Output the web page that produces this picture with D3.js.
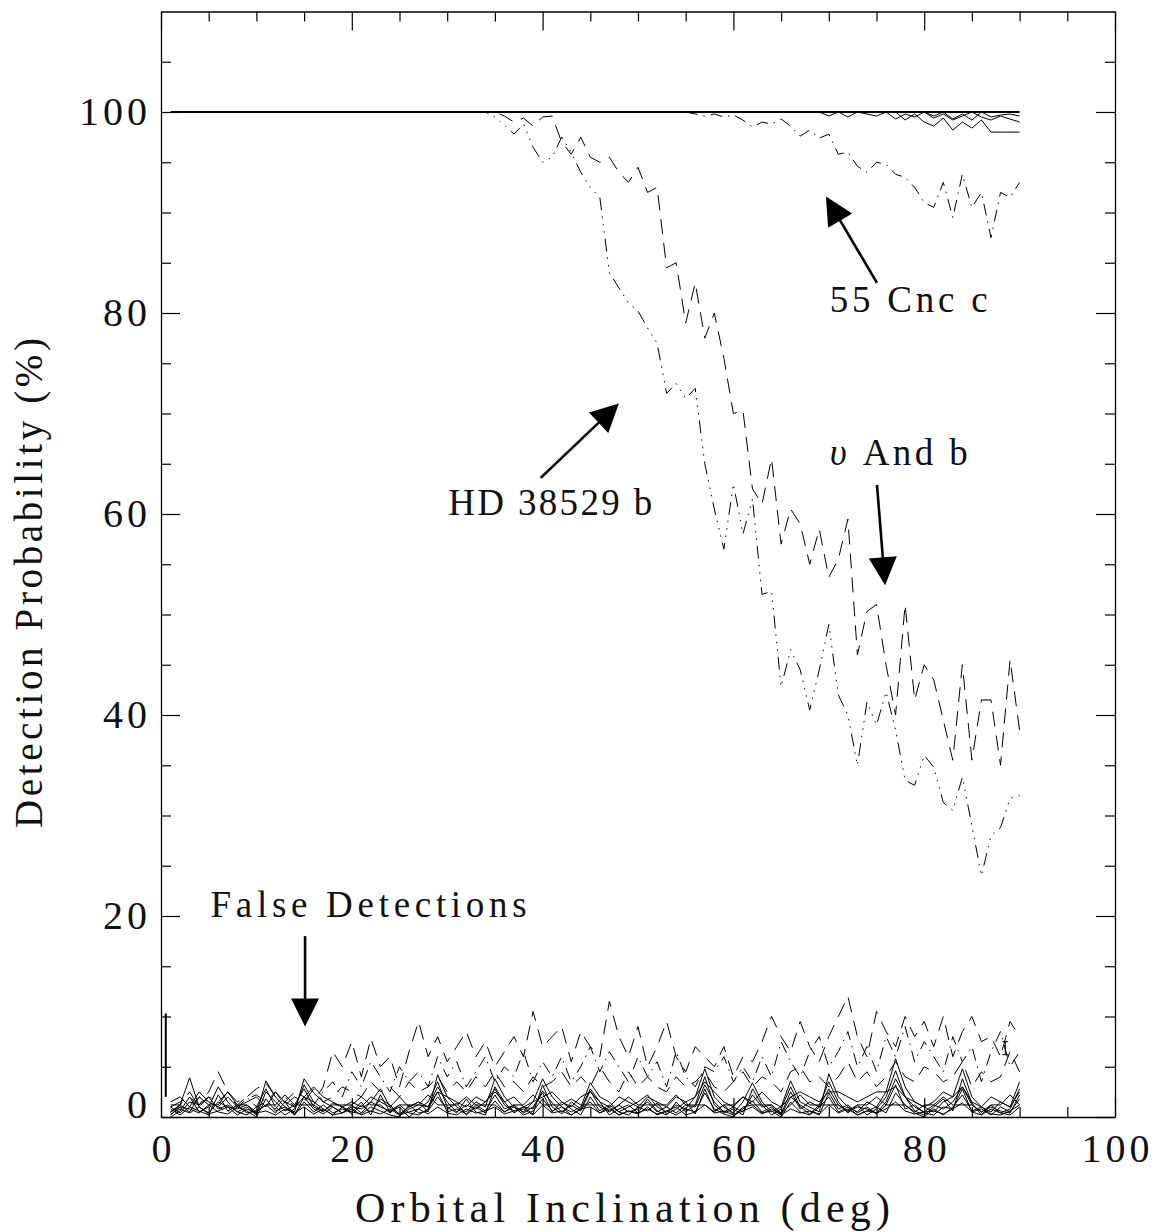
<!DOCTYPE html>
<html><head><meta charset="utf-8">
<script src="https://cdn.jsdelivr.net/npm/d3@7"></script>
<style>body{margin:0;background:#fff}svg{display:block}</style>
</head><body>
<svg id="c" width="1154" height="1232"></svg>
<script>
// ---------------- DATA ----------------
const xTicks = [0, 20, 40, 60, 80, 100];
const xTickLabels = ["0", "20", "40", "60", "80", "100"];
const xMinorTicks = [5, 10, 15, 25, 30, 35, 45, 50, 55, 65, 70, 75, 85, 90, 95];
const yTicks = [0, 20, 40, 60, 80, 100];
const yTickLabels = ["0", "20", "40", "60", "80", "100"];
const yMinorTicks = [5, 10, 15, 25, 30, 35, 45, 50, 55, 65, 70, 75, 85, 90, 95, 105];

// certain detections: flat 100% line (deg 1 .. 90)
const sureX = [1, 90];
const sureY = [100, 100];

// upsilon And b (dashed), starting at 33 deg
const upsStart = 33;
const upsAnd = [100,100,100,99.6,99.0,99.4,98.6,99.5,99.6,97.0,
  95.8,97.5,95.5,95.0,95.5,94.0,93.0,94.5,92.0,92.5,
  84.5,85.0,79.0,83.0,77.5,80.0,75.5,70.0,70.3,62.5,
  61.0,65.5,57.0,60.5,59.0,55.0,58.5,53.7,55.5,59.5,
  46.0,50.3,51.0,45.0,40.0,51.0,41.5,45.0,43.5,39.5,
  35.5,45.0,35.5,41.5,41.5,35.0,45.5,38.5];

// HD 38529 b (dash-dot-dot-dot), starting at 33 deg
const hdStart = 33;
const hd38529 = [100,100,99.5,98.7,97.8,98.8,96.5,95.0,95.5,97.5,
  96.0,94.0,92.5,91.5,84.0,82.5,81.0,80.2,78.5,77.0,
  72.0,73.0,71.5,72.5,65.0,60.5,56.5,63.0,58.0,61.5,
  52.0,52.3,42.8,46.5,44.5,40.5,44.5,49.0,42.0,40.0,
  35.0,41.3,39.0,42.3,38.5,33.5,33.0,36.0,34.8,31.3,
  30.5,33.8,29.0,24.0,28.0,28.8,31.7,32.0];

// 55 Cnc c (dash-dot), starting at 55 deg
const cncStart = 55;
const cnc55c = [100,99.8,99.6,99.8,99.5,99.7,99.2,98.5,99.0,98.8,
  99.3,98.6,97.6,98.2,97.4,97.8,95.8,96.0,94.6,94.0,
  95.0,94.8,93.8,93.5,92.5,91.0,90.5,93.0,89.5,93.8,
  90.5,92.0,87.5,92.0,91.5,93.0];

// solid near-certain curves close to 100 %
const nearA_start = 55;
const nearA = [100,100,100,100,100,100,100,100,100,100,
  100,100,100,100,100,99.6,100,99.5,100,99.8,
  99.6,100,99.3,99.8,99.5,100,99.4,99.8,99.2,99.6,
  100,99.5,99.2,99.6,99.3,99.0];
const nearB_start = 76;
const nearB = [100,100,99.2,99.8,99.0,98.6,99.4,98.2,99.0,98.4,99.2,98.0,98.0,98.0,98.0];
const nearC_start = 80;
const nearC = [100,99.6,100,99.3,99.8,99.2,100,99.5,99.7,99.8,99.6];

// false detections, solid (deg 1 .. 90)
const falseStart = 1;
const fs1 = [0.5,1.2,3.9,1.0,0.4,1.5,1.0,0.8,1.2,0.3, 3.6,2.0,1.0,0.5,3.8,2.4,1.5,1.0,0.4,1.0,
  0.8,1.5,2.8,1.0,0.3,1.0,1.5,0.5,4.2,2.0, 1.0,0.5,1.5,1.0,3.8,2.0,1.0,0.5,1.5,3.8,
  2.0,1.0,0.5,1.0,3.4,2.0,1.5,0.5,1.0,1.5, 2.2,1.0,0.5,1.2,0.8,2.0,4.8,2.0,1.0,0.4,
  1.5,3.4,1.5,0.5,1.0,3.6,1.5,1.0,0.5,4.3, 2.0,1.0,0.5,1.5,1.0,2.5,5.8,3.0,1.5,1.0,
  0.5,1.5,2.0,4.8,2.0,1.0,0.5,1.5,1.0,3.5];
const fs2 = [1.0,0.4,1.5,1.2,2.0,0.8,1.2,0.5,1.0,0.2, 2.5,1.5,0.6,1.2,2.8,1.0,0.5,1.4,1.0,0.3,
  1.2,0.5,1.8,1.2,0.2,0.8,1.2,1.0,3.0,1.5, 0.5,1.2,0.8,1.5,2.8,1.2,0.6,1.0,0.8,2.6,
  1.4,0.5,1.2,0.6,2.6,1.0,0.5,1.2,0.5,0.8, 1.5,0.5,1.0,0.4,1.2,1.0,3.2,1.5,0.5,1.0,
  0.5,2.2,1.0,1.2,0.3,2.5,0.8,1.5,1.0,2.8, 1.2,0.5,1.0,0.8,0.4,1.5,3.8,2.0,1.0,0.5,
  1.2,0.8,1.5,3.0,1.2,0.5,1.0,0.6,0.4,2.2];
const fs3 = [0.2,1.0,0.8,0.4,1.2,0.5,0.3,1.0,0.6,0.0, 1.8,0.6,1.0,0.2,1.5,0.5,1.2,0.4,0.8,0.5,
  0.3,1.0,0.6,0.2,0.0,1.2,0.4,0.6,2.0,0.8, 1.4,0.2,1.0,0.4,1.6,0.5,1.0,0.2,0.6,1.8,
  0.6,1.0,0.2,0.8,1.5,0.4,1.0,0.2,0.6,0.3, 1.0,0.2,0.6,1.0,0.2,0.5,2.4,0.8,0.3,0.0,
  1.0,1.2,0.4,0.6,0.0,1.5,0.5,0.2,1.0,2.0, 0.5,1.0,0.2,0.6,1.0,0.4,2.4,1.2,0.4,0.0,
  0.8,0.2,1.0,2.2,0.6,1.0,0.3,0.2,0.6,1.2];
const fs4 = [1.2,1.2,0.5,2.0,1.2,1.2,2.5,1.2,1.2,0.5, 1.2,1.2,2.2,1.2,1.2,1.2,0.6,1.2,1.2,1.2,
  2.0,1.2,1.2,0.4,1.2,1.2,1.2,2.2,1.2,1.2, 1.2,2.0,1.2,1.2,1.2,0.5,1.2,1.2,2.2,1.2,
  1.2,1.2,1.8,1.2,1.2,1.2,0.6,1.2,2.0,1.2, 1.2,1.2,1.2,2.2,1.2,1.2,1.2,0.5,1.2,1.2,
  2.0,1.2,1.2,1.2,0.4,1.2,2.2,1.2,1.2,1.2, 1.2,0.6,1.2,1.2,2.0,1.2,1.2,1.2,0.5,1.2,
  1.2,2.0,1.2,1.2,1.2,0.5,1.2,1.2,2.2,1.2];
const fs5 = [0.0,0.6,2.0,0.5,1.0,3.0,1.5,0.5,0.2,1.0, 2.8,1.0,0.2,0.8,3.2,1.5,0.8,0.2,1.0,0.5,
  1.5,0.2,2.2,0.5,1.0,0.0,0.8,1.5,3.5,1.0, 0.4,1.8,0.5,0.2,3.0,1.5,0.4,1.0,0.3,3.2,
  1.0,0.3,1.5,0.8,2.8,1.5,0.2,0.8,1.2,0.4, 1.8,0.6,0.2,1.5,0.5,1.2,4.0,1.2,0.4,0.8,
  0.2,2.8,1.2,0.2,0.8,3.0,1.0,0.3,1.2,3.5, 1.5,0.4,1.2,0.2,0.8,2.0,4.6,2.0,0.6,0.2,
  1.0,1.8,0.6,3.8,1.4,0.2,1.2,0.4,0.8,2.8];
const fs6 = [0.8,0.2,1.0,0.6,0.2,2.2,0.6,1.2,0.4,0.6, 1.2,0.4,1.5,0.2,2.0,0.8,0.3,1.0,0.4,1.2,
  0.4,1.5,1.0,0.6,1.2,0.4,0.2,0.8,2.5,0.5, 0.8,0.3,1.2,0.6,2.2,0.8,1.2,0.4,1.0,2.4,
  0.5,1.5,0.8,0.2,2.0,0.6,1.2,0.5,0.2,1.0, 0.6,1.4,0.3,0.8,1.5,0.3,2.8,0.6,1.2,0.2,
  0.8,1.6,0.5,1.0,0.2,2.0,1.2,0.6,0.2,2.4, 0.8,1.2,0.4,1.0,0.3,1.2,3.2,0.8,1.2,0.4,
  0.2,1.0,0.8,2.8,0.5,0.8,0.2,1.0,0.5,1.8];
const fs7 = [1.5,2.0,1.0,2.5,1.5,1.0,2.0,1.0,1.5,2.0, 1.0,2.5,1.5,1.0,2.0,3.0,2.0,1.5,1.0,1.5,
  1.0,2.0,1.5,1.0,2.0,1.0,1.5,1.0,2.5,2.0, 1.5,1.0,2.0,1.5,2.5,1.5,2.0,1.0,1.5,2.0,
  2.5,1.5,1.0,2.0,2.5,1.5,1.0,2.0,1.5,1.0, 2.0,1.5,1.0,2.0,1.5,2.0,3.5,2.5,1.5,1.0,
  2.0,1.5,2.5,1.5,1.0,2.0,2.5,2.0,1.5,2.5, 2.5,2.0,1.5,2.0,2.5,2.5,3.0,2.0,1.5,1.0,
  1.5,2.5,2.0,3.0,1.5,1.0,2.0,1.5,1.0,2.5];
const fs8 = [0.3,0.8,0.4,1.0,0.3,0.6,1.0,0.2,0.8,0.4, 0.6,0.2,0.8,0.4,1.0,0.3,0.8,0.2,0.4,0.8,
  0.2,0.6,0.3,0.8,0.2,0.5,0.8,0.3,1.0,0.4, 0.2,0.8,0.4,0.6,1.0,0.3,0.6,0.8,0.2,1.2,
  0.4,0.6,0.2,0.8,1.0,0.4,0.8,0.2,0.6,0.4, 0.8,0.3,0.6,0.2,0.8,0.5,1.2,0.4,0.6,0.2,
  0.6,1.0,0.3,0.8,0.2,0.8,0.4,0.6,0.3,1.2, 0.4,0.8,0.2,0.6,0.4,0.8,1.5,0.6,0.3,0.5,
  0.6,0.3,0.8,1.4,0.5,0.2,0.8,0.4,0.2,1.0];

// false detections, broken lines (deg 1 .. 90)
const fd1 = [1.0,1.5,2.0,1.2,2.5,4.5,2.5,1.5,2.0,2.8, 3.4,2.0,1.5,2.5,2.0,1.5,3.0,6.5,5.0,7.5,
  4.0,7.8,5.0,6.0,3.0,6.5,9.5,6.0,8.0,5.5, 7.0,8.5,6.0,7.5,5.0,6.5,8.0,6.0,10.5,7.0,
  8.0,9.0,5.5,8.5,7.0,6.0,11.5,8.0,6.0,9.0, 5.0,7.0,9.5,6.0,4.5,7.0,6.0,5.0,7.0,4.0,
  6.0,5.5,7.5,10.0,8.0,6.5,9.5,7.0,5.5,8.0, 10.0,12.0,8.0,6.0,10.5,8.5,7.0,10.0,8.0,9.5,
  7.0,10.0,6.0,8.5,10.0,7.5,8.0,6.0,9.5,8.0];
const fd2 = [0.5,1.0,0.8,2.0,1.5,1.0,0.5,1.2,2.0,1.0, 1.5,0.8,2.0,1.0,1.8,1.2,2.5,3.5,2.0,4.5,
  3.0,5.5,4.0,2.5,5.0,3.5,4.5,3.0,6.0,4.0, 5.5,3.0,4.5,6.0,3.5,5.0,4.0,6.5,3.5,5.5,
  4.0,6.0,3.5,5.0,7.0,4.5,6.5,5.0,3.5,6.0, 4.0,5.5,3.0,6.5,4.0,3.0,5.0,4.5,6.0,3.5,
  5.0,3.5,6.0,4.0,7.5,5.5,4.0,6.5,8.0,5.0, 6.5,8.5,5.0,7.0,4.5,8.0,6.0,9.0,5.5,7.5,
  6.0,4.5,8.0,5.5,7.0,3.5,6.5,8.5,5.0,6.5];
const fd3 = [0.5,1.2,2.5,1.0,2.0,1.5,2.5,1.0,1.8,2.2, 1.5,2.5,1.2,2.0,1.5,2.8,1.5,2.0,3.0,2.5,
  2.0,3.5,2.5,3.0,2.0,3.5,2.5,3.0,4.0,2.5, 3.5,2.5,4.0,3.0,4.5,3.0,3.5,2.5,4.0,3.0,
  3.5,4.5,3.0,4.0,3.0,5.0,3.5,2.5,4.5,3.0, 4.0,3.0,2.5,4.0,3.0,3.5,4.5,3.0,2.5,3.5,
  4.5,3.0,4.0,3.5,2.5,4.5,5.0,3.5,4.0,3.0, 4.0,5.5,3.5,4.5,3.0,4.0,5.5,4.0,3.5,5.0,
  4.5,3.5,4.0,5.5,3.0,4.5,3.5,4.0,6.5,4.5];

// error bars [deg, low, high]
const errBars = [[0.5, 2.0, 10.3], [88.5, 6.2, 7.5]];

// annotations: label, text position (deg,%), arrow tail, arrow tip
const notes = [
  {label: "55 Cnc c", tx: 70.1, ty: 80.1, len: 158, tail: [75.05, 83.0], tip: [69.7, 91.6]},
  {label: "HD 38529 b", tx: 30.1, ty: 59.9, len: 204, tail: [39.8, 63.6], tip: [48.0, 71.0]},
  {label: "And b", ups: true, tx: 70.1, ty: 64.9, len: 138, tail: [75.05, 62.9], tip: [75.9, 52.9]},
  {label: "False Detections", tx: 5.2, ty: 19.9, len: 316, tail: [15.1, 18.0], tip: [15.1, 9.0]}
];

// ---------------- DRAWING ----------------
const FONT = '"Liberation Serif","DejaVu Serif",serif';
const L = 161, R = 1115, T = 11.5, B = 1117;
const x = d3.scaleLinear().domain([0, 100]).range([L, R]);
const y = d3.scaleLinear().domain([0, 110]).range([B, T]);
const svg = d3.select('#c');
svg.append('rect').attr('width', 1154).attr('height', 1232).attr('fill', '#fff');

const line = d3.line().x(d => x(d[0])).y(d => y(d[1]));
const toPts = (start, vals) => vals.map((v, i) => [start + i, v]);

const gData = svg.append('g');
function draw(start, vals, dash, w) {
  gData.append('path').datum(toPts(start, vals))
    .attr('d', line).attr('fill', 'none').attr('stroke', '#000')
    .attr('stroke-width', w || 1).attr('stroke-dasharray', dash || null)
    .attr('stroke-linejoin', 'miter');
}
const DASH = '15,9';
const DASHDOT = '12,6,1.5,6';
const DASH3DOT = '13,6,1.5,6,1.5,6,1.5,6';

[fs1, fs2, fs3, fs4, fs5, fs6, fs7, fs8].forEach(s => draw(falseStart, s, null, 1));
draw(falseStart, fd1, DASH, 1);
draw(falseStart, fd2, DASHDOT, 1);
draw(falseStart, fd3, DASH, 1);

gData.append('path').datum(sureX.map((d, i) => [d, sureY[i]]))
  .attr('d', line).attr('fill', 'none').attr('stroke', '#000').attr('stroke-width', 2.2);
draw(nearA_start, nearA, null, 1);
draw(nearB_start, nearB, null, 1);
draw(nearC_start, nearC, null, 1);
draw(cncStart, cnc55c, DASHDOT, 1);
draw(upsStart, upsAnd, DASH, 1);
draw(hdStart, hd38529, DASH3DOT, 1);

errBars.forEach(([d, lo, hi], i) => {
  gData.append('line').attr('x1', x(d)).attr('x2', x(d)).attr('y1', y(lo)).attr('y2', y(hi))
    .attr('stroke', '#000').attr('stroke-width', i === 0 ? 2 : 1);
  if (i > 0) {
    [lo, hi].forEach(v => gData.append('line').attr('x1', x(d - 0.3)).attr('x2', x(d + 0.3))
      .attr('y1', y(v)).attr('y2', y(v)).attr('stroke', '#000').attr('stroke-width', 1));
  }
});

// axes
function styleAxis(g) {
  g.selectAll('path.domain').attr('stroke', '#000').attr('stroke-width', 1.3);
  g.selectAll('.tick line').attr('stroke', '#000').attr('stroke-width', 1.2);
  g.selectAll('.tick text').attr('font-family', FONT).attr('font-size', 40)
    .attr('letter-spacing', 4).attr('fill', '#111');
}
const gx = svg.append('g').attr('transform', `translate(0,${B})`)
  .call(d3.axisBottom(x).tickValues(xTicks).tickSize(-19).tickSizeOuter(0).tickPadding(17)
    .tickFormat((d, i) => xTickLabels[i]));
styleAxis(gx);
gx.selectAll('.tick text').attr('dx', 2);
svg.append('g').attr('transform', `translate(0,${B})`)
  .call(d3.axisBottom(x).tickValues(xMinorTicks).tickSize(-10).tickFormat(''))
  .call(g => g.select('.domain').remove()).call(styleAxis);
svg.append('g').attr('transform', `translate(0,${T})`)
  .call(d3.axisTop(x).tickValues(xTicks).tickSize(-19).tickSizeOuter(0).tickFormat('')).call(styleAxis);
svg.append('g').attr('transform', `translate(0,${T})`)
  .call(d3.axisTop(x).tickValues(xMinorTicks).tickSize(-10).tickFormat(''))
  .call(g => g.select('.domain').remove()).call(styleAxis);

const gy = svg.append('g').attr('transform', `translate(${L},0)`)
  .call(d3.axisLeft(y).tickValues(yTicks).tickSize(-19).tickSizeOuter(0).tickPadding(10)
    .tickFormat((d, i) => yTickLabels[i]));
styleAxis(gy);
gy.selectAll('.tick text').filter(d => d === 0).attr('y', -12);
svg.append('g').attr('transform', `translate(${L},0)`)
  .call(d3.axisLeft(y).tickValues(yMinorTicks).tickSize(-10).tickFormat(''))
  .call(g => g.select('.domain').remove()).call(styleAxis);
svg.append('g').attr('transform', `translate(${R},0)`)
  .call(d3.axisRight(y).tickValues(yTicks).tickSize(-19).tickSizeOuter(0).tickFormat('')).call(styleAxis);
svg.append('g').attr('transform', `translate(${R},0)`)
  .call(d3.axisRight(y).tickValues(yMinorTicks).tickSize(-10).tickFormat(''))
  .call(g => g.select('.domain').remove()).call(styleAxis);

// axis titles
svg.append('text').attr('x', 355).attr('y', 1222).attr('font-family', FONT).attr('font-size', 42)
  .attr('fill', '#111').attr('textLength', 535).attr('lengthAdjust', 'spacing')
  .text('Orbital Inclination (deg)');
svg.append('text').attr('transform', 'translate(42,828) rotate(-90)').attr('font-family', FONT)
  .attr('font-size', 39).attr('fill', '#111').attr('textLength', 490).attr('lengthAdjust', 'spacing')
  .text('Detection Probability (%)');

// annotations
const HEAD = 28, HALF = 14;
notes.forEach(n => {
  const t = svg.append('text').attr('x', x(n.tx)).attr('y', y(n.ty)).attr('font-family', FONT)
    .attr('font-size', 37).attr('fill', '#111').attr('textLength', n.len).attr('lengthAdjust', 'spacing');
  if (n.ups) {
    t.append('tspan').attr('font-style', 'italic').text('υ ');
    t.append('tspan').text(' ' + n.label);
  } else t.text(n.label);
  const x0 = x(n.tail[0]), y0 = y(n.tail[1]), x1 = x(n.tip[0]), y1 = y(n.tip[1]);
  const dx = x1 - x0, dy = y1 - y0, len = Math.hypot(dx, dy), ux = dx / len, uy = dy / len;
  const bx = x1 - ux * HEAD, by = y1 - uy * HEAD;
  svg.append('line').attr('x1', x0).attr('y1', y0).attr('x2', bx + ux * 2).attr('y2', by + uy * 2)
    .attr('stroke', '#000').attr('stroke-width', 2.6);
  svg.append('path').attr('d', `M${x1},${y1}L${bx - uy * HALF},${by + ux * HALF}L${bx + uy * HALF},${by - ux * HALF}Z`)
    .attr('fill', '#000');
});
</script>
</body></html>
